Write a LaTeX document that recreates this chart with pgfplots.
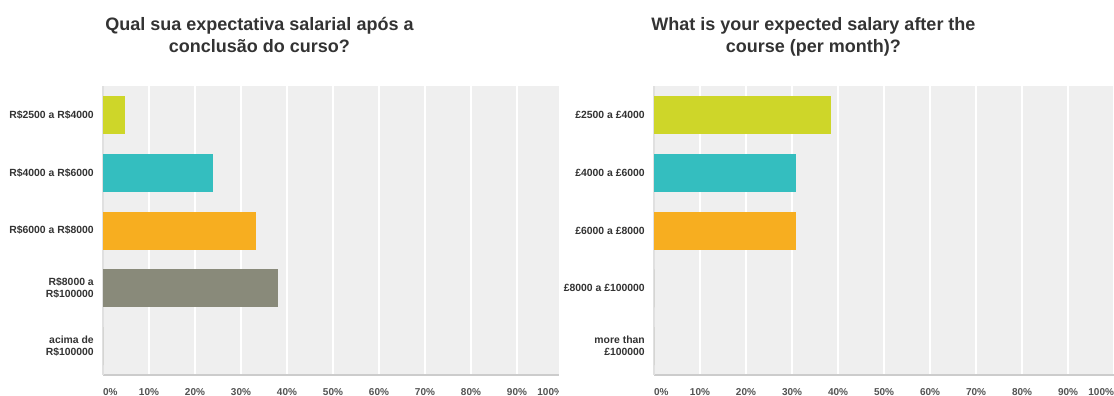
\documentclass[border=0pt]{standalone}
\usepackage{pgfplots}
\pgfplotsset{compat=1.18}
\usepackage{fontspec}
\setmainfont{Liberation Sans}

\definecolor{txt}{HTML}{333333}
\definecolor{plotbg}{HTML}{EFEFEF}
\definecolor{cLime}{HTML}{CED629}
\definecolor{cTeal}{HTML}{34BEBF}
\definecolor{cOrange}{HTML}{F7AE20}
\definecolor{cGrey}{HTML}{898A7A}

\pgfplotsset{
  survey/.style={
    xbar, bar shift=0pt, bar width=28.5pt,
    anchor=south west,
    scale only axis, width=345pt, height=216.75pt,
    xmin=0, xmax=100, ymin=0.5, ymax=5.5, y dir=reverse,
    axis background/.style={fill=plotbg},
    axis x line*=bottom, axis y line*=left,
    x axis line style={-, draw=black!20, line width=1.2pt},
    y axis line style={-, draw=black!12, line width=0.8pt},
    xtick={0,10,...,100}, ytick={1,...,5},
    major tick length=0pt,
    xmajorgrids, major grid style={draw=white, line width=0.8pt},
    xticklabel={\pgfmathtruncatemacro\tv{round(\tick)}\ifnum\tv=0 \rlap{0\%}\else\ifnum\tv=100 \llap{100\%}\else\tv\%\fi\fi},
    xticklabel style={font=\fontsize{7.5}{9}\selectfont\bfseries, text=txt!85, yshift=-6.5pt},
    yticklabel style={font=\fontsize{7.8}{9}\selectfont\bfseries, text=txt, align=right, xshift=-3.4pt},
    every axis plot/.append style={draw=none},
  }
}

\begin{document}
\begin{tikzpicture}
\useasboundingbox (0,0) rectangle (835.5pt,297pt);

% Portuguese survey question
\node[anchor=base, text=txt, font=\fontsize{13.5}{16}\selectfont\bfseries] at (194.6pt,273.75pt) {Qual sua expectativa salarial após a};
\node[anchor=base, text=txt, font=\fontsize{13.5}{16}\selectfont\bfseries] at (194.6pt,257.6pt) {conclusão do curso?};

\begin{axis}[survey, at={(77.25pt,15.75pt)},
  yticklabels={R\$2500 a R\$4000, R\$4000 a R\$6000, R\$6000 a R\$8000, R\$8000 a\\R\$100000, acima de\\R\$100000}]
  \addplot[fill=cLime]   coordinates {(4.76,1)};
  \addplot[fill=cTeal]   coordinates {(23.81,2)};
  \addplot[fill=cOrange] coordinates {(33.33,3)};
  \addplot[fill=cGrey]   coordinates {(38.10,4)};
  \addplot[fill=cGrey]   coordinates {(0,5)};
\end{axis}

% gap between the two panels
\fill[white] (419.6pt,0pt) rectangle (490pt,297pt);

% English survey question
\node[anchor=base, text=txt, font=\fontsize{13.5}{16}\selectfont\bfseries] at (610.1pt,273.75pt) {What is your expected salary after the};
\node[anchor=base, text=txt, font=\fontsize{13.5}{16}\selectfont\bfseries] at (610.1pt,257.6pt) {course (per month)?};

\begin{axis}[survey, at={(490.5pt,15.75pt)},
  yticklabels={£2500 a £4000, £4000 a £6000, £6000 a £8000, £8000 a £100000, more than\\£100000}]
  \addplot[fill=cLime]   coordinates {(38.46,1)};
  \addplot[fill=cTeal]   coordinates {(30.77,2)};
  \addplot[fill=cOrange] coordinates {(30.77,3)};
  \addplot[fill=cGrey]   coordinates {(0,4)};
  \addplot[fill=cGrey]   coordinates {(0,5)};
\end{axis}
\end{tikzpicture}
\end{document}
